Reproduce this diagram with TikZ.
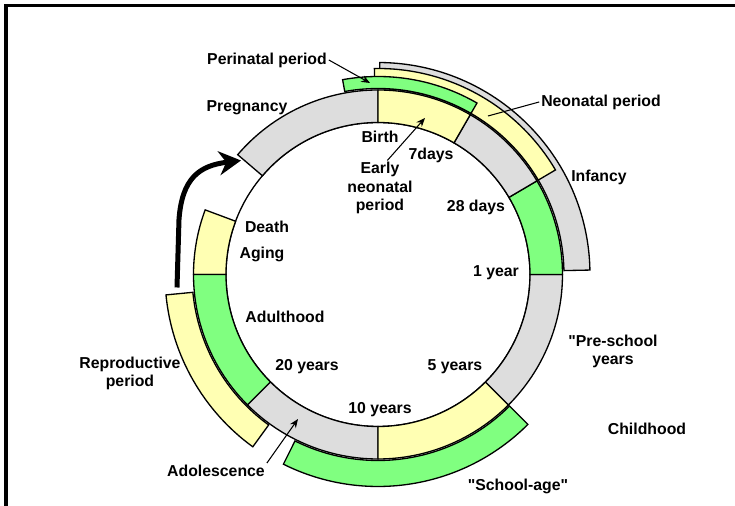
\documentclass[tikz,border=0pt]{standalone}
\usepackage{fontspec}
\setmainfont{Liberation Sans}[Ligatures=TeXOff]
\usetikzlibrary{arrows.meta}
\definecolor{ringgray}{RGB}{221,221,221}
\definecolor{ringyellow}{RGB}{255,255,179}
\definecolor{ringgreen}{RGB}{128,255,128}
\tikzset{
	seg/.style={draw, line width=0.75pt}, % outline of every ring piece
	lbl/.style={font=\bfseries\fontsize{9}{10.3}\selectfont, align=center, inner sep=1pt},
	leader/.style={line width=0.6pt, -{Stealth[length=5pt,width=4pt]}}, % thin pointer lines
	cycle arrow/.style={line width=0.1cm, -{Stealth[length=0.44cm,width=0.48cm]}},
}
% piece of a ring: colour, start angle, end angle, inner radius, outer radius
\newcommand{\ringseg}[5]{%
	\draw[seg, fill=#1] (#2:#4) arc[start angle=#2, end angle=#3, radius=#4]
		-- (#3:#5) arc[start angle=#3, end angle=#2, radius=#5] -- cycle;
}
\begin{document}
\begin{tikzpicture}[x=0.02cm, y=0.02cm]
	\useasboundingbox (-378,-231.5) rectangle (357,274.5);
	\draw[line width=0.075cm] (-372,-240) -- (-372,269) -- (365,269);

	% main life cycle ring
	\draw[line width=0.75pt] (0,0) circle[radius=152];
	\foreach \c/\a/\b in {ringgray/90/139.5, ringyellow/159.5/180, ringgreen/180/225,
			ringgray/225/270, ringyellow/270/315, ringgray/315/360,
			ringgreen/0/30.5, ringgray/30.5/60, ringyellow/60/90}
		{\ringseg{\c}{\a}{\b}{152}{184.5}}

	% outer bands
	\ringseg{ringgray}{1.2}{89.5}{186}{212}
	\ringseg{ringyellow}{30.5}{91}{186}{206}
	\ringseg{ringgreen}{60}{100.3}{186}{198}
	\ringseg{ringgreen}{243.5}{315}{186}{212}
	\ringseg{ringyellow}{185.5}{234}{186}{213}

	% back to pregnancy
	\coordinate (cyclestart) at (-201,-13);
	\coordinate (cycleend) at (-137,114);
	\draw[cycle arrow] (cyclestart) -- (-199,55) .. controls (-196,97) and (-178,109) .. (cycleend);

	\node[lbl] (perinatal) at (-111,214.5) {Perinatal period};
	\node[lbl] (pregnancy) at (-131,166.5) {Pregnancy};
	\node[lbl] (birth) at (2,137.5) {Birth};
	\node[lbl] (sevendays) at (53,119.5) {7days};
	\node[lbl] (early) at (2,86.5) {Early\\neonatal\\period};
	\node[lbl] (neonatal) at (223,172.5) {Neonatal period};
	\node[lbl] (infancy) at (221,97.5) {Infancy};
	\node[lbl] (days28) at (98,67.5) {28 days};
	\node[lbl] (year1) at (118,1.5) {1 year};
	\node[lbl] (death) at (-111,47.5) {Death};
	\node[lbl] (aging) at (-116,20.5) {Aging};
	\node[lbl] (adulthood) at (-93,-42.5) {Adulthood};
	\node[lbl] (years20) at (-71,-92.5) {20 years};
	\node[lbl] (reproductive) at (-248,-98.5) {Reproductive\\period};
	\node[lbl] (adolescence) at (-162,-196.5) {Adolescence};
	\node[lbl] (years10) at (2,-135.5) {10 years};
	\node[lbl] (years5) at (77,-92.5) {5 years};
	\node[lbl] (preschool) at (235,-77) {"Pre-school\\years};
	\node[lbl] (childhood) at (269,-154.5) {Childhood};
	\node[lbl] (schoolage) at (140,-211.5) {"School-age"};

	\coordinate (perinataltip) at (-8,191.5);
	\coordinate (earlytip) at (47,156.5);
	\coordinate (neonataltip) at (110,158.5);
	\coordinate (adolescencetip) at (-80,-144.5);
	\draw[leader] (perinatal.east) -- (perinataltip);
	\draw[leader] (early.75) -- (earlytip);
	\draw[line width=0.6pt] (neonatal.west) -- (neonataltip);
	\draw[leader] (adolescence.north east) -- (adolescencetip);
\end{tikzpicture}
\end{document}
